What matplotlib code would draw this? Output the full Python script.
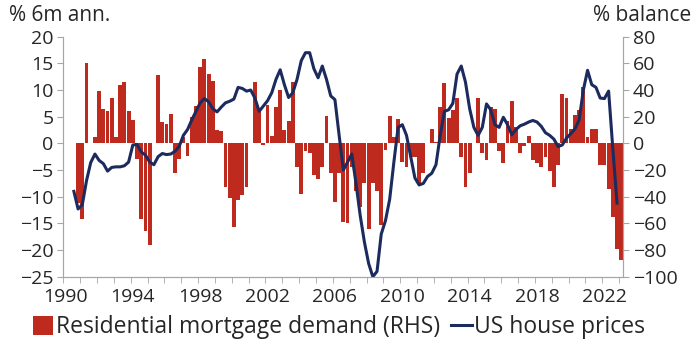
import numpy as np
import matplotlib.pyplot as plt
from matplotlib.patches import Patch
from matplotlib.lines import Line2D

plt.rcParams['font.family'] = ['Open Sans', 'DejaVu Sans']

# quarterly, 1990Q1 .. 2023Q1
start_year = 1990
n_q = 133

# Residential mortgage demand, % balance (RHS)
mortgage = [None, None, None, -45, -57, 60, 0, 5, 39, 26,
            24.5, 34, 4.5, 44, 46, 24, 17.5, -12, -57, -66,
            -76, 0, 51, 16, 14.5, 22, -22, -12, 5, -9.5,
            19.5, 28, 57.5, 63, 52, 47, 10, 9, -32.5, -41,
            -63, -42.5, -39, -32.5, 0, 46, 25, -1.5, 29, 5.5,
            27, 40, 10, 17, 46, -17.5, -38, -6, -7.5, -24,
            -27, -17.5, 20.5, -22, -44, -22, -59, -60, -18, -36,
            -48, -30, -64, -30, -36, -61, -5, 20.5, 5, 18,
            -14, -18, -10, -10, -30, -22, 0, 11, 1, 27.5,
            45, 19, 25, 34, -10, -33, -22, 0, 34, -7,
            -12.5, 27, 26, -6, -14.5, 17, 32, 12, -7.5, -2,
            5.5, -12.5, -14.5, -17.5, -10.5, -20.5, -33, -16, 37, 34,
            10.5, 21, 25, 42.5, 5, 11, 11, -16, -16, -34.5,
            -55.5, -79, -87.5]

# US house prices, % 6m annualised (LHS)
house = [None, None, -9, -12.3, -11.5, -7, -3.6, -2, -3.2, -3.8,
         -5.2, -4.5, -4.4, -4.4, -4.2, -3.5, -0.3, -0.2, -1.6, -2.2,
         -3.5, -4, -2.5, -1.9, -2.1, -2, -1.5, -0.6, 1.5, 2.6,
         4.4, 6, 7.6, 8.4, 7.8, 6.5, 5.9, 6.8, 7.6, 7.9,
         8.3, 10.5, 10.3, 9.8, 10, 8.5, 6, 7, 8, 9.5,
         12, 13.8, 11, 8.6, 9.5, 12, 15.5, 17, 17, 14,
         12.3, 14.5, 12, 8.9, 8.2, 1.5, -5, -3.5, -2, -7.5,
         -13.5, -18.5, -22.5, -25, -24, -17, -14.5, -10.5, -3.5, 3,
         3.5, 1.5, -2.5, -6.5, -7.8, -7.5, -6.2, -5.6, -4, 1.5,
         6, 6.3, 7.5, 13, 14.5, 11.5, 6.5, 3, 1.5, 3,
         7.4, 6.3, 3.5, 3, 4.9, 3.5, 1.6, 2.6, 3.3, 3.6,
         4, 4.3, 4, 3.2, 2, 1.5, 0.8, -0.6, -0.3, 1,
         1.8, 2.7, 4.4, 10, 13.7, 11, 10.5, 8.5, 8.4, 9.8,
         -1, -11.2, None]

year_labels = ['1990', '1994', '1998', '2002', '2006', '2010', '2014', '2018', '2022']

x = start_year + (np.arange(n_q) + 0.5) / 4
bars = np.array([np.nan if v is None else v for v in mortgage], dtype=float)
line = np.array([np.nan if v is None else v for v in house], dtype=float)

red = '#BF2A1F'
navy = '#1C2B5E'
grey = '#A6A6A6'
txt = '#262626'

fig = plt.figure(figsize=(7, 3.52), dpi=100)
ax = fig.add_axes([0.0905, 0.2139, 0.8, 0.6818])
ax2 = ax.twinx()

ax2.bar(x, bars, width=0.25 * 0.92, color=red, linewidth=0)
ax.plot(x, line, color=navy, linewidth=2.2)

# line on top of the bars
ax.set_zorder(ax2.get_zorder() + 1)
ax.patch.set_visible(False)

ax.set_xlim(start_year, start_year + n_q / 4)
ax.set_ylim(-25, 20)
ax.set_yticks(np.arange(-25, 21, 5))
ax2.set_ylim(-100, 80)
ax2.set_yticks(np.arange(-100, 81, 20))

ax.set_xticks(np.arange(1990, 2024), minor=True)
ax.set_xticks([int(y) + 0.125 for y in year_labels])
ax.set_xticklabels(year_labels)
ax.tick_params(axis='x', which='major', length=0, pad=8, labelsize=14)
ax.tick_params(axis='x', which='minor', length=4, color=grey, direction='out')

for a in (ax, ax2):
    a.spines['top'].set_visible(False)
    for side in ('left', 'right', 'bottom'):
        a.spines[side].set_color(grey)
ax.tick_params(axis='y', length=4, color=grey, labelsize=14, pad=3)
ax2.tick_params(axis='y', length=4, color=grey, labelsize=14, pad=3)
for lab in ax.get_yticklabels() + ax2.get_yticklabels() + ax.get_xticklabels():
    lab.set_color(txt)

fig.text(0.013, 0.955, '% 6m ann.', fontsize=15, color=txt, va='center')
fig.text(0.988, 0.955, '% balance', fontsize=15, color=txt, va='center', ha='right')

handles = [Patch(facecolor=red, edgecolor='none'), Line2D([0], [0], color=navy, linewidth=2.2)]
fig.legend(handles, ['Residential mortgage demand (RHS)', 'US house prices'],
           loc='center', bbox_to_anchor=(0.484, 0.07), ncol=2, frameon=False,
           fontsize=16.5, handlelength=0.9, handleheight=0.9, handletextpad=0.1,
           columnspacing=0.5, labelcolor=txt)

fig.savefig('out.png', dpi=100)
